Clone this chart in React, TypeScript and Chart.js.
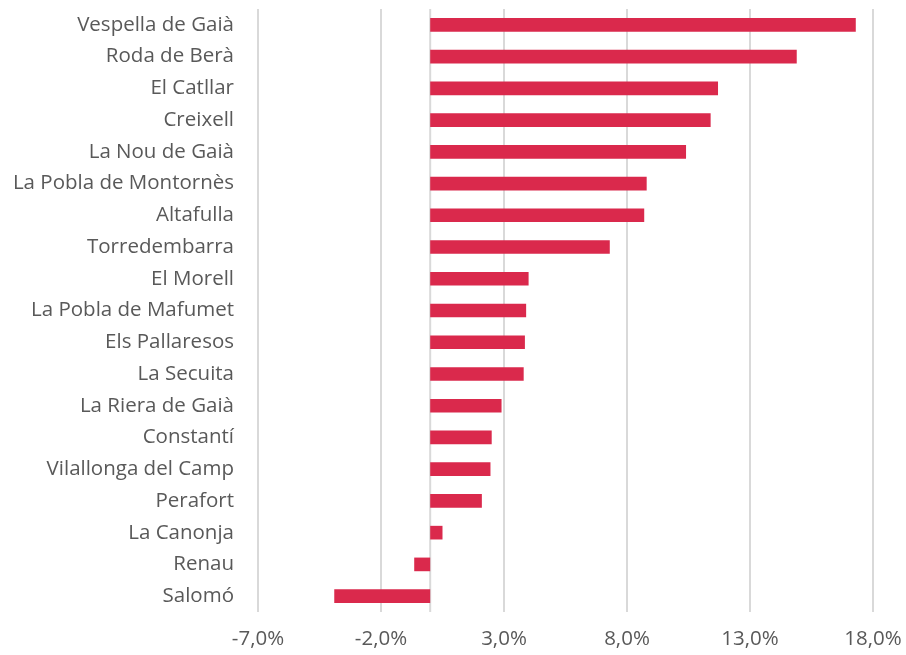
import React, { useEffect, useRef } from "react";
import { Chart, registerables } from "chart.js";
Chart.register(...registerables);

const categories = [
  "Vespella de Gaià",
  "Roda de Berà",
  "El Catllar",
  "Creixell",
  "La Nou de Gaià",
  "La Pobla de Montornès",
  "Altafulla",
  "Torredembarra",
  "El Morell",
  "La Pobla de Mafumet",
  "Els Pallaresos",
  "La Secuita",
  "La Riera de Gaià",
  "Constantí",
  "Vilallonga del Camp",
  "Perafort",
  "La Canonja",
  "Renau",
  "Salomó",
];
const values = [17.3, 14.9, 11.7, 11.4, 10.4, 8.8, 8.7, 7.3, 4.0, 3.9, 3.85, 3.8, 2.9, 2.5, 2.45, 2.1, 0.5, -0.65, -3.9];
const xMin = -7;
const xMax = 18;
const xStep = 5;

const zeroLine = {
  id: "zeroLine",
  beforeDatasetsDraw(chart: any) {
    const x = chart.scales.x.getPixelForValue(0);
    const { top, bottom } = chart.chartArea;
    const ctx = chart.ctx;
    ctx.save();
    ctx.strokeStyle = "#d9d9d9";
    ctx.lineWidth = 2;
    ctx.beginPath();
    ctx.moveTo(x, top);
    ctx.lineTo(x, bottom);
    ctx.stroke();
    ctx.restore();
  },
};

export default function App() {
  const ref = useRef<HTMLCanvasElement>(null);
  useEffect(() => {
    document.body.style.margin = "0";
    const chart = new Chart(ref.current!, {
      type: "bar",
      data: {
        labels: categories,
        datasets: [
          {
            data: values,
            backgroundColor: "#DA294C",
            barPercentage: 0.43,
            categoryPercentage: 1,
          },
        ],
      },
      plugins: [zeroLine],
      options: {
        indexAxis: "y",
        animation: false,
        responsive: false,
        layout: { padding: { left: 0, right: 33, top: 9, bottom: 0 } },
        plugins: { legend: { display: false }, tooltip: { enabled: false } },
        scales: {
          x: {
            min: xMin,
            max: xMax,
            ticks: {
              stepSize: xStep,
              color: "#595959",
              font: { family: "Open Sans", size: 20.5 },
              padding: 15,
              maxRotation: 0,
              callback: (v: any) => Number(v).toFixed(1).replace(".", ",") + "%",
            },
            grid: { color: "#d9d9d9", lineWidth: 2, drawTicks: false },
            border: { display: false },
            afterFit: (s: any) => {
              s.height = 43;
              s.paddingLeft = 0;
              s.paddingRight = 0;
            },
          },
          y: {
            ticks: {
              color: "#595959",
              font: { family: "Open Sans", size: 20.5 },
              padding: 24,
            },
            grid: { display: false, drawTicks: false },
            border: { display: false },
            afterFit: (s: any) => {
              s.width = 258;
              s.paddingTop = 0;
              s.paddingBottom = 0;
            },
          },
        },
      },
    });
    return () => chart.destroy();
  }, []);
  return <canvas ref={ref} width={906} height={655} style={{ display: "block" }} />;
}
